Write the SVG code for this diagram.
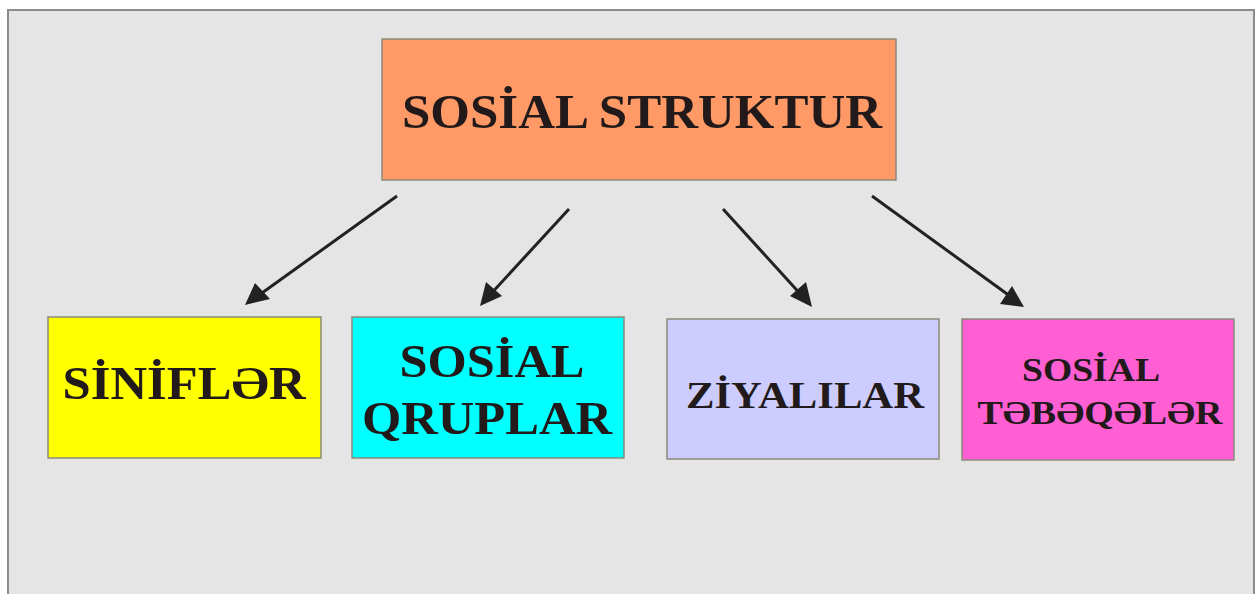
<svg xmlns="http://www.w3.org/2000/svg" width="1258" height="594" viewBox="0 0 1258 594">
<defs>
<style>
.box{stroke:#8a8a7a;stroke-width:1.5}
.t{font-family:"Liberation Serif","Times New Roman",serif;font-weight:bold;text-anchor:middle;fill:#221a1a}
.c{stroke:#222;stroke-width:3;fill:none}
.h{fill:#222}
</style>
</defs>
<rect x="0" y="0" width="1258" height="594" fill="#ffffff"/>
<rect x="8" y="10" width="1246" height="600" fill="#e5e5e5" stroke="#8c8c8c" stroke-width="2"/>
<g id="connectors">
<line class="c" x1="397" y1="196" x2="255" y2="298"/>
<line class="c" x1="569" y1="209" x2="488" y2="297"/>
<line class="c" x1="723" y1="209" x2="804" y2="298"/>
<line class="c" x1="872" y1="196" x2="1014" y2="299"/>
<path class="h" d="M245,305 L255,283 L270,299 z"/>
<path class="h" d="M480,306 L486,282 L502,296 z"/>
<path class="h" d="M812,307 L790,296 L806,282 z"/>
<path class="h" d="M1024,307 L1000,304 L1012,286 z"/>
</g>
<g id="node-top">
<rect class="box" x="382" y="39" width="514" height="141" fill="#ff9966"/>
<text class="t" x="642" y="128" font-size="49" textLength="480" lengthAdjust="spacingAndGlyphs">SOSİAL STRUKTUR</text>
</g>
<g id="node-sinifler">
<rect class="box" x="48" y="317" width="273" height="141" fill="#ffff00"/>
<text class="t" x="184" y="399" font-size="47" textLength="243" lengthAdjust="spacingAndGlyphs">SİNİFLƏR</text>
</g>
<g id="node-qruplar">
<rect class="box" x="352" y="317" width="272" height="141" fill="#00ffff"/>
<text class="t" x="492" y="377" font-size="46" fill="#1a3030" textLength="185" lengthAdjust="spacingAndGlyphs">SOSİAL</text>
<text class="t" x="487" y="434" font-size="46" fill="#1a3030" textLength="250" lengthAdjust="spacingAndGlyphs">QRUPLAR</text>
</g>
<g id="node-ziyalilar">
<rect class="box" x="667" y="319" width="272" height="140" fill="#ccccff"/>
<text class="t" x="805" y="408" font-size="38" fill="#1e1e30" textLength="238" lengthAdjust="spacingAndGlyphs">ZİYALILAR</text>
</g>
<g id="node-tebeqeler">
<rect class="box" x="962" y="319" width="272" height="141" fill="#ff5fd2"/>
<text class="t" x="1091" y="381" font-size="34" fill="#3a1030" textLength="138" lengthAdjust="spacingAndGlyphs">SOSİAL</text>
<text class="t" x="1100" y="424" font-size="34" fill="#3a1030" textLength="245" lengthAdjust="spacingAndGlyphs">TƏBƏQƏLƏR</text>
</g>
</svg>
